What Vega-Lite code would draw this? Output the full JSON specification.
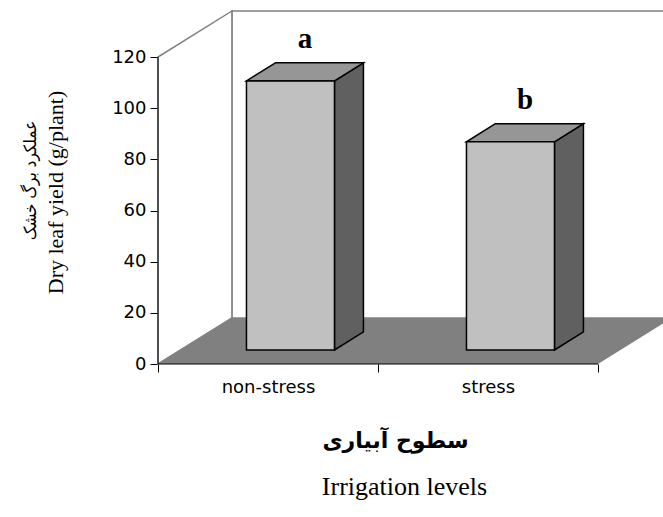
{
  "$schema": "https://vega.github.io/schema/vega-lite/v6.json",
  "width": 505,
  "height": 352,
  "autosize": {"type": "none"},
  "padding": {"left": 158, "top": 12, "right": 0, "bottom": 153},
  "background": "white",
  "config": {"view": {"stroke": null}},
  "title": {
    "text": "Irrigation levels",
    "orient": "bottom",
    "anchor": "middle",
    "font": "Liberation Serif",
    "fontSize": 26,
    "fontWeight": "normal",
    "color": "black",
    "offset": 23,
    "dx": -6
  },
  "resolve": {"axis": {"y": "independent"}},
  "datasets": {
    "bars": [
      {"level": "non-stress", "yield": 105.2, "letter": "a"},
      {"level": "stress", "yield": 81.4, "letter": "b"}
    ],
    "frame": [{"edge": "front"}, {"edge": "back"}]
  },
  "layer": [
    {
      "data": {"name": "frame"},
      "transform": [
        {"filter": "datum.edge === 'back'"},
        {"calculate": "0.336", "as": "x0"},
        {"calculate": "2.336", "as": "x1"},
        {"calculate": "18", "as": "y0"},
        {"calculate": "138", "as": "y1"}
      ],
      "mark": {"type": "rect", "fill": "white", "stroke": "#808080", "strokeWidth": 1.5},
      "encoding": {
        "x": {
          "field": "x0", "type": "quantitative",
          "scale": {"domain": [0, 2.2955], "nice": false, "zero": false},
          "axis": {
            "values": [0, 0.5, 1, 1.5, 2],
            "domain": false,
            "grid": false,
            "tickSize": 8,
            "tickColor": "black",
            "tickWidth": 1,
            "tickOpacity": {"condition": {"test": "datum.value % 1 !== 0", "value": 0}, "value": 1},
            "labelExpr": "datum.value === 0.5 ? 'non-stress' : datum.value === 1.5 ? 'stress' : ''",
            "labelFont": "DejaVu Sans",
            "labelFontSize": 18,
            "labelColor": "black",
            "labelPadding": 6,
            "labelFlush": false,
            "labelOverlap": false,
            "title": "سطوح آبیاری",
            "titleFont": "DejaVu Sans",
            "titleFontSize": 22,
            "titleFontWeight": "bold",
            "titleColor": "black",
            "titlePadding": 34,
            "titleX": 237
          }
        },
        "x2": {"field": "x1"},
        "y": {
          "field": "y0", "type": "quantitative",
          "scale": {"domain": [0, 137.6], "nice": false, "zero": false},
          "axis": {
            "orient": "left",
            "values": [0, 20, 40, 60, 80, 100, 120],
            "domain": false,
            "grid": false,
            "tickSize": 8,
            "tickColor": "black",
            "labelFont": "DejaVu Sans",
            "labelFontSize": 18,
            "labelColor": "black",
            "labelPadding": 4,
            "title": "Dry leaf yield  (g/plant)",
            "titleFont": "Liberation Serif",
            "titleFontSize": 22,
            "titleFontWeight": "normal",
            "titleColor": "black",
            "titlePadding": 44,
            "titleY": 180
          }
        },
        "y2": {"field": "y1"}
      }
    },
    {
      "data": {"name": "frame"},
      "transform": [
        {"calculate": "datum.edge === 'back' ? 1 : 0", "as": "depth"},
        {"calculate": "datum.depth * 0.336", "as": "wx"},
        {"calculate": "datum.depth * 18", "as": "wy0"},
        {"calculate": "120 + datum.depth * 18", "as": "wy1"}
      ],
      "mark": {"type": "area", "orient": "vertical", "fill": "white", "fillOpacity": 1, "stroke": "#808080", "strokeWidth": 1.5},
      "encoding": {
        "x": {"field": "wx", "type": "quantitative"},
        "y": {"field": "wy0", "type": "quantitative", "axis": null},
        "y2": {"field": "wy1"}
      }
    },
    {
      "data": {"name": "frame"},
      "transform": [
        {"calculate": "datum.edge === 'back' ? 1 : 0", "as": "depth"},
        {"calculate": "datum.depth * 18", "as": "fy"},
        {"calculate": "datum.depth * 0.336", "as": "fx0"},
        {"calculate": "2 + datum.depth * 0.336", "as": "fx1"}
      ],
      "mark": {"type": "area", "orient": "horizontal", "fill": "#808080", "fillOpacity": 1},
      "encoding": {
        "y": {"field": "fy", "type": "quantitative", "axis": null},
        "x": {"field": "fx0", "type": "quantitative"},
        "x2": {"field": "fx1"}
      }
    },
    {
      "data": {"name": "bars"},
      "transform": [
        {"window": [{"op": "row_number", "as": "n"}]},
        {"calculate": "datum.n - 1", "as": "i"},
        {"calculate": "0.304", "as": "near"},
        {"calculate": "0.696", "as": "far"},
        {"fold": ["near", "far"], "as": ["end", "depth"]},
        {"calculate": "datum.i + 0.7 + datum.depth * 0.336", "as": "sx"},
        {"calculate": "datum.depth * 18", "as": "sy0"},
        {"calculate": "datum.yield + datum.depth * 18", "as": "sy1"}
      ],
      "mark": {"type": "area", "orient": "vertical", "fill": "#606060", "fillOpacity": 1, "stroke": "black", "strokeWidth": 1.5, "strokeJoin": "miter"},
      "encoding": {
        "detail": {"field": "level"},
        "x": {"field": "sx", "type": "quantitative"},
        "y": {"field": "sy0", "type": "quantitative", "axis": null},
        "y2": {"field": "sy1"}
      }
    },
    {
      "data": {"name": "bars"},
      "transform": [
        {"window": [{"op": "row_number", "as": "n"}]},
        {"calculate": "datum.n - 1", "as": "i"},
        {"calculate": "0.304", "as": "near"},
        {"calculate": "0.696", "as": "far"},
        {"fold": ["near", "far"], "as": ["end", "depth"]},
        {"calculate": "datum.yield + datum.depth * 18", "as": "ty"},
        {"calculate": "datum.i + 0.3 + datum.depth * 0.336", "as": "tx0"},
        {"calculate": "datum.i + 0.7 + datum.depth * 0.336", "as": "tx1"}
      ],
      "mark": {"type": "area", "orient": "horizontal", "fill": "#969696", "fillOpacity": 1, "stroke": "black", "strokeWidth": 1.5, "strokeJoin": "miter"},
      "encoding": {
        "detail": {"field": "level"},
        "y": {"field": "ty", "type": "quantitative", "axis": null},
        "x": {"field": "tx0", "type": "quantitative"},
        "x2": {"field": "tx1"}
      }
    },
    {
      "data": {"name": "bars"},
      "transform": [
        {"window": [{"op": "row_number", "as": "n"}]},
        {"calculate": "datum.n - 1", "as": "i"},
        {"calculate": "datum.i + 0.3 + 0.304 * 0.336", "as": "bx0"},
        {"calculate": "datum.i + 0.7 + 0.304 * 0.336", "as": "bx1"},
        {"calculate": "0.304 * 18", "as": "by0"},
        {"calculate": "datum.yield + 0.304 * 18", "as": "by1"}
      ],
      "mark": {"type": "rect", "fill": "#c0c0c0", "stroke": "black", "strokeWidth": 1.5},
      "encoding": {
        "x": {"field": "bx0", "type": "quantitative"},
        "x2": {"field": "bx1"},
        "y": {"field": "by0", "type": "quantitative", "axis": null},
        "y2": {"field": "by1"}
      }
    },
    {
      "data": {"name": "bars"},
      "transform": [
        {"window": [{"op": "row_number", "as": "n"}]},
        {"calculate": "datum.n - 1", "as": "i"},
        {"calculate": "datum.i + 0.5 + 0.5 * 0.336", "as": "lx"},
        {"calculate": "datum.yield + 0.696 * 18", "as": "ly"}
      ],
      "mark": {"type": "text", "font": "Liberation Serif", "fontSize": 29, "fontWeight": "bold", "color": "black", "baseline": "alphabetic", "dy": -15},
      "encoding": {
        "x": {"field": "lx", "type": "quantitative"},
        "y": {"field": "ly", "type": "quantitative", "axis": null},
        "text": {"field": "letter"}
      }
    },
    {
      "data": {"name": "frame"},
      "transform": [{"filter": "datum.edge === 'front'"}],
      "mark": {"type": "rule", "color": "black", "strokeWidth": 1},
      "encoding": {
        "x": {"datum": 0, "type": "quantitative"},
        "y": {
          "datum": 0, "type": "quantitative",
          "axis": {
            "orient": "left",
            "values": [0],
            "labels": false,
            "ticks": false,
            "domain": false,
            "grid": false,
            "offset": 117,
            "title": "عملکرد برگ خشک",
            "titleFont": "DejaVu Sans Condensed, DejaVu Sans",
            "titleFontSize": 17,
            "titleFontWeight": "normal",
            "titleColor": "black",
            "titlePadding": 2,
            "titleY": 168
          }
        },
        "y2": {"datum": 120}
      }
    },
    {
      "data": {"name": "frame"},
      "transform": [{"filter": "datum.edge === 'front'"}],
      "mark": {"type": "rule", "color": "black", "strokeWidth": 1},
      "encoding": {
        "x": {"datum": 0, "type": "quantitative"},
        "x2": {"datum": 2},
        "y": {"datum": 0, "type": "quantitative", "axis": null}
      }
    }
  ]
}
